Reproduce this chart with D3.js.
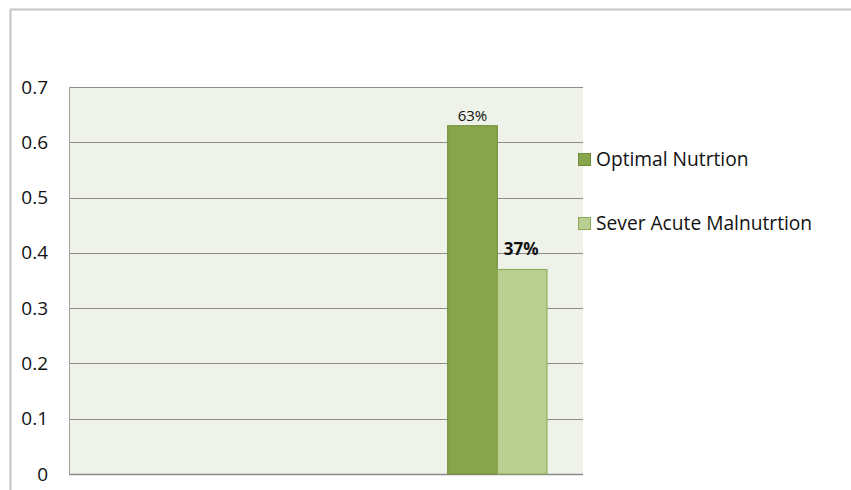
<!DOCTYPE html>
<html>
<head>
<meta charset="utf-8">
<script src="https://cdn.jsdelivr.net/npm/d3@7"></script>
<style>
  html, body { margin: 0; padding: 0; background: #fff; }
  svg { display: block; }
  text { font-family: "Open Sans", "Noto Sans", sans-serif; fill: #111; }
</style>
</head>
<body>
<svg id="chart" width="851" height="490"></svg>
<script>
// Chart data
const categories = [1, 2, 3];
const seriesNames = ["Optimal Nutrtion", "Sever Acute Malnutrtion"];
const optimalValues = [null, null, 0.63];
const severeValues = [null, null, 0.37];
const valueLabels = ["63%", "37%"];
const yTicks = [0, 0.1, 0.2, 0.3, 0.4, 0.5, 0.6, 0.7];

const fills = ["#87a54c", "#b9cf91"];
const strokes = ["#6f8c38", "#8aa857"];

const svg = d3.select("#chart");
const W = 851, H = 490;

// Outer frame (top and left edges)
svg.append("path")
  .attr("d", `M10.5,${H} L10.5,9.5 L${W},9.5`)
  .attr("fill", "none")
  .attr("stroke", "#c4c4c4")
  .attr("stroke-width", 2);

const plot = { left: 69, right: 583, top: 87, bottom: 474 };

const y = d3.scaleLinear().domain([0, 0.7]).range([plot.bottom, plot.top]);
const x = d3.scaleBand().domain(categories).range([plot.left, plot.right]).padding(0);

// each series group occupies the middle 58% of its category band
const groupFrac = 0.58;
const xs = d3.scaleBand().domain(seriesNames)
  .range([x.bandwidth() * (1 - groupFrac) / 2, x.bandwidth() * (1 + groupFrac) / 2])
  .padding(0);

// Plot background
svg.append("rect")
  .attr("x", plot.left).attr("y", plot.top)
  .attr("width", plot.right - plot.left).attr("height", plot.bottom - plot.top)
  .attr("fill", "#eef2e8");

// Gridlines
svg.append("g")
  .selectAll("line")
  .data(yTicks)
  .join("line")
  .attr("x1", plot.left).attr("x2", plot.right)
  .attr("y1", d => Math.round(y(d)) + 0.5).attr("y2", d => Math.round(y(d)) + 0.5)
  .attr("stroke", "#8c8c8c")
  .attr("stroke-width", d => d === 0 ? 1.5 : 1);

// Left edge of plot
svg.append("line")
  .attr("x1", plot.left + 0.5).attr("x2", plot.left + 0.5)
  .attr("y1", plot.top).attr("y2", plot.bottom)
  .attr("stroke", "#a0a0a0").attr("stroke-width", 1);

// Y axis labels
const yAxis = d3.axisLeft(y).tickValues(yTicks).tickSize(0).tickPadding(21)
  .tickFormat(d => d === 0 ? "0" : d3.format(".1f")(d));
const gy = svg.append("g").attr("transform", `translate(${plot.left},0)`).call(yAxis);
gy.select(".domain").remove();
gy.selectAll("text")
  .attr("font-size", 19)
  .attr("font-family", "'Open Sans', sans-serif")
  .attr("fill", "#111");

// Bars
const seriesValues = [optimalValues, severeValues];
seriesNames.forEach((name, si) => {
  const vals = seriesValues[si];
  svg.append("g")
    .selectAll("rect")
    .data(categories.map((c, i) => ({ c, v: vals[i] })).filter(d => d.v != null))
    .join("rect")
    .attr("x", d => x(d.c) + xs(name))
    .attr("y", d => y(d.v))
    .attr("width", xs.bandwidth())
    .attr("height", d => y(0) - y(d.v))
    .attr("fill", fills[si])
    .attr("stroke", strokes[si])
    .attr("stroke-width", 1);
});

// Value labels
const lastCat = categories[categories.length - 1];
const lastIdx = categories.length - 1;
svg.append("text")
  .attr("x", x(lastCat) + xs(seriesNames[0]) + xs.bandwidth() / 2)
  .attr("y", y(optimalValues[lastIdx]) - 5)
  .attr("text-anchor", "middle")
  .attr("font-size", 15)
  .text(valueLabels[0]);
svg.append("text")
  .attr("x", x(lastCat) + xs(seriesNames[1]) + xs.bandwidth() / 2 - 1)
  .attr("y", y(severeValues[lastIdx]) - 14)
  .attr("text-anchor", "middle")
  .attr("font-size", 17)
  .attr("font-weight", "bold")
  .text(valueLabels[1]);

// Legend
const legendY = [159, 223];
const legend = svg.append("g");
seriesNames.forEach((name, si) => {
  legend.append("rect")
    .attr("x", 578.5).attr("y", legendY[si] - 5.5)
    .attr("width", 12).attr("height", 12)
    .attr("fill", fills[si]).attr("stroke", strokes[si]).attr("stroke-width", 1);
  legend.append("text")
    .attr("x", 596).attr("y", legendY[si] + 7)
    .attr("font-size", 19.2)
    .text(name);
});
</script>
</body>
</html>
